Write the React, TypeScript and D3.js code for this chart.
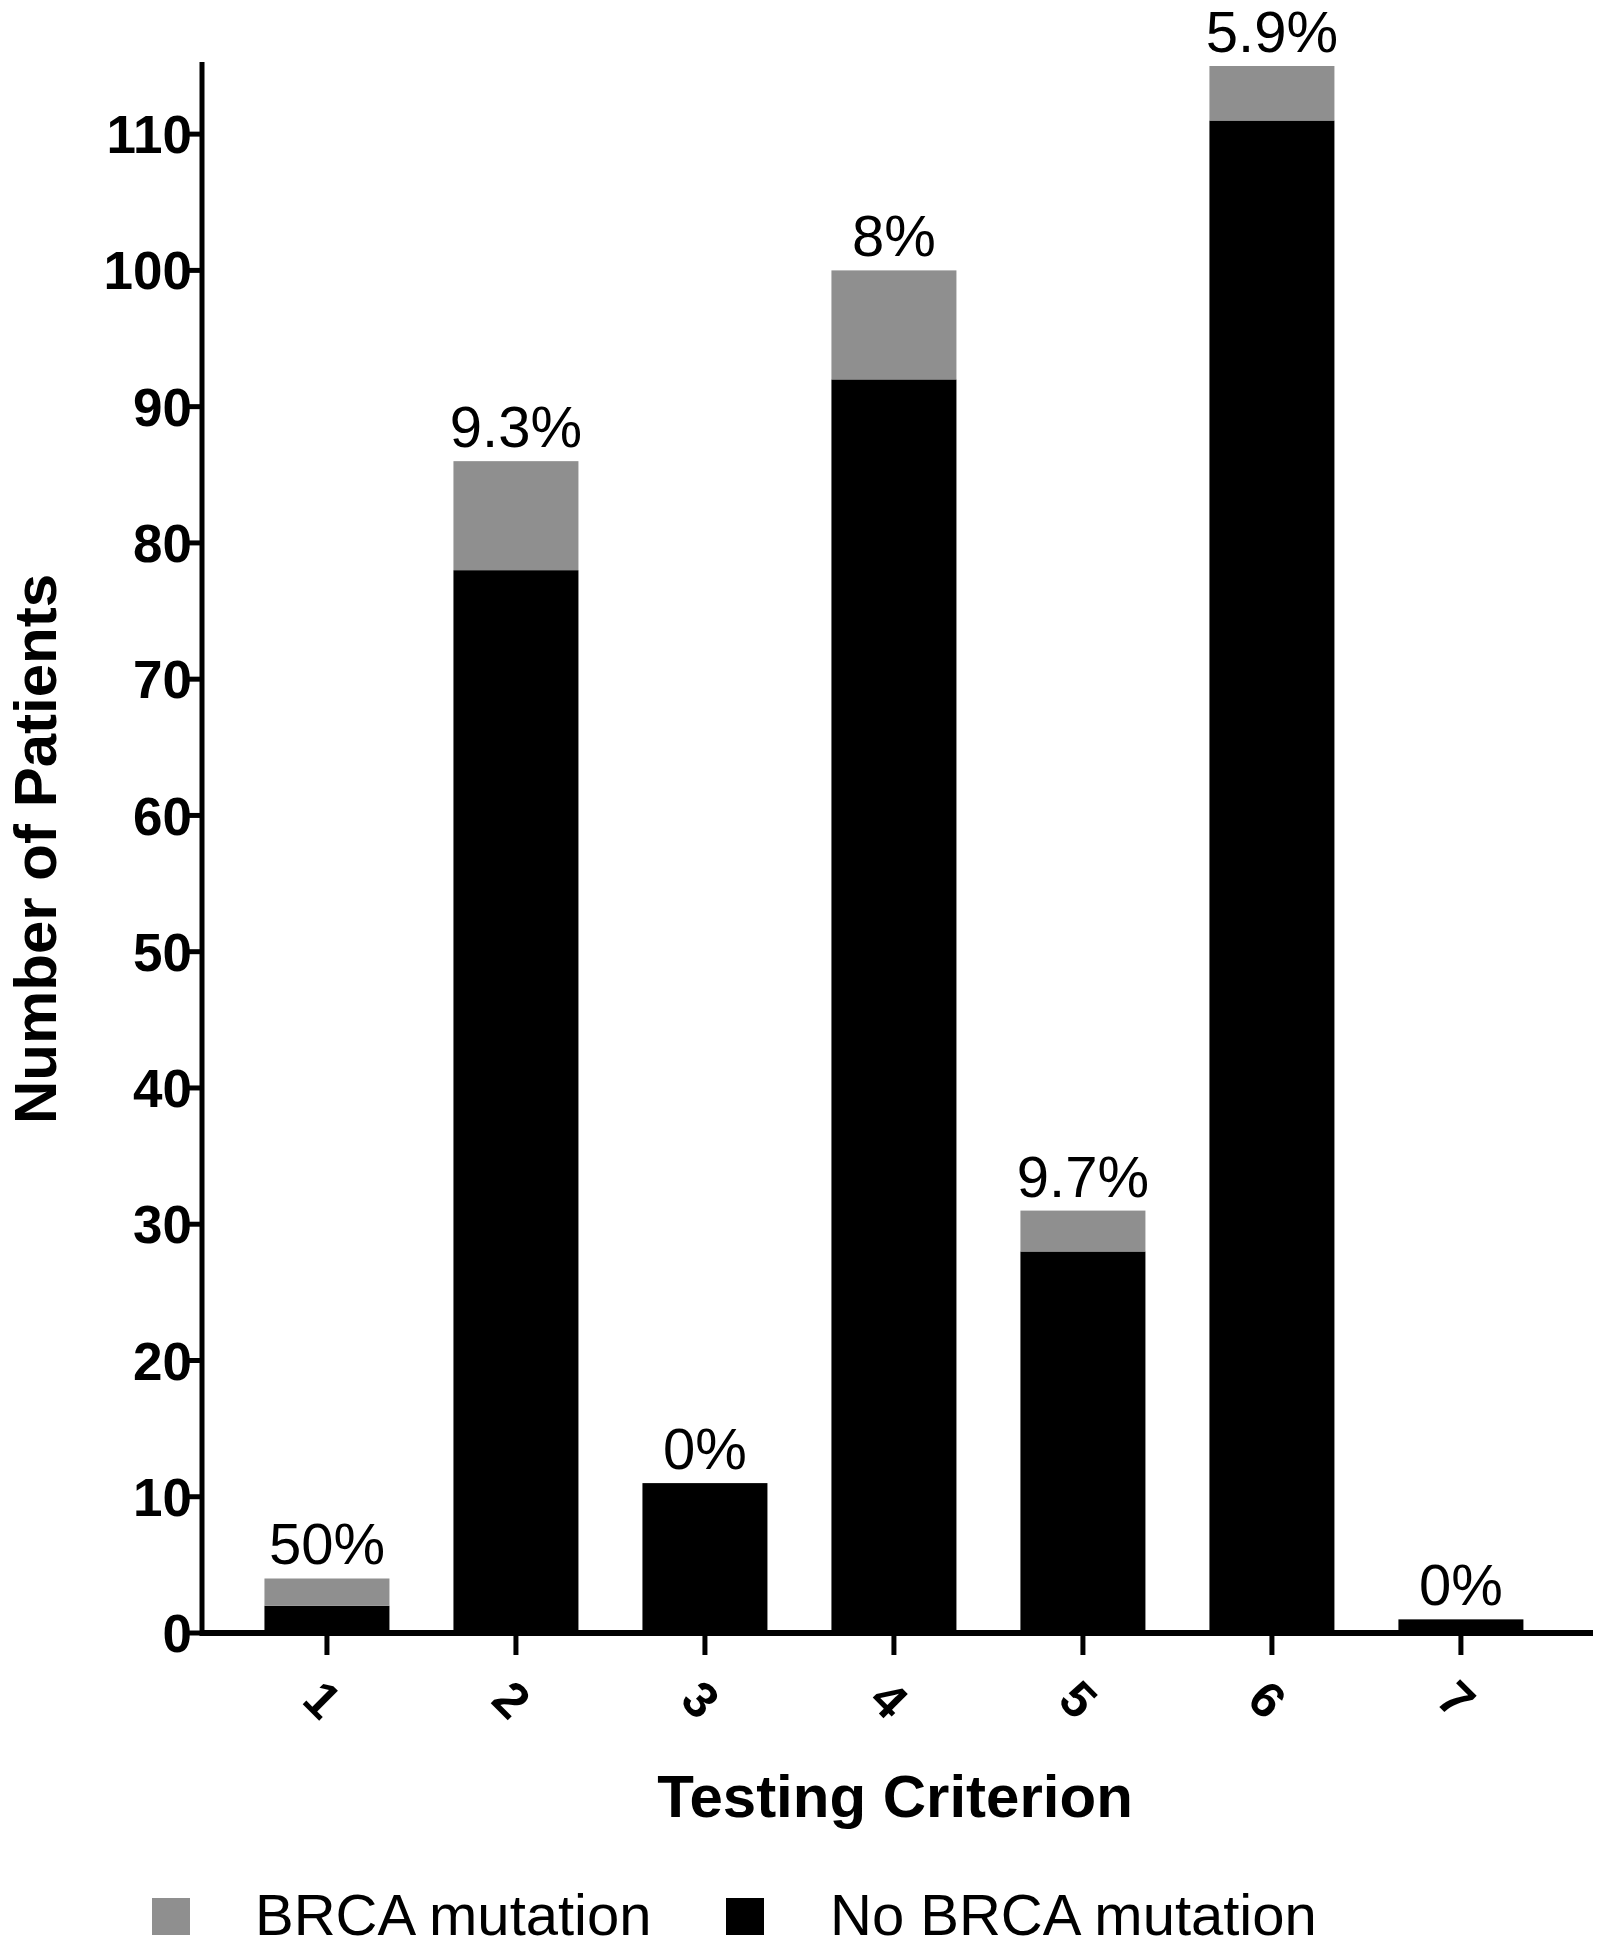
import React from "react";
import * as d3 from "d3";

const categories = ["1", "2", "3", "4", "5", "6", "7"];
const noMutation = [2, 78, 11, 92, 28, 111, 1];
const mutation = [2, 8, 0, 8, 3, 4, 0];
const percentLabels = ["50%", "9.3%", "0%", "8%", "9.7%", "5.9%", "0%"];
const yTickValues = [0, 10, 20, 30, 40, 50, 60, 70, 80, 90, 100, 110];
const seriesKeys = ["noMutation", "mutation"];
const seriesNames = ["BRCA mutation", "No BRCA mutation"];
const seriesColors: Record<string, string> = { noMutation: "#000000", mutation: "#8f8f8f" };

const W = 1604;
const H = 1950;
const FONT = "'Liberation Sans', Arial, Helvetica, sans-serif";

export default function App() {
  const axisX = 202;
  const baseY = 1633;
  const x = d3
    .scaleBand<string>()
    .domain(categories)
    .range([axisX, 1593])
    .paddingInner(0.3386)
    .paddingOuter(0.3493)
    .align(0.473);
  const y = d3.scaleLinear().domain([0, 115]).range([baseY, 66]);

  const rows = categories.map((c, i) => ({
    cat: c,
    noMutation: noMutation[i],
    mutation: mutation[i],
  }));
  const stack = d3.stack<any>().keys(seriesKeys);
  const layers = stack(rows);
  const bw = x.bandwidth();

  return (
    <svg
      width={W}
      height={H}
      viewBox={`0 0 ${W} ${H}`}
      style={{ position: "absolute", left: 0, top: 0, background: "#fff" }}
      fontFamily={FONT}
    >
      <rect x={0} y={0} width={W} height={H} fill="#fff" />
      {/* bars */}
      {layers.map((layer) => (
        <g key={layer.key} fill={seriesColors[layer.key]}>
          {layer.map((d, i) =>
            d[1] - d[0] > 0 ? (
              <rect
                key={i}
                x={x(categories[i])!}
                y={y(d[1])}
                width={bw}
                height={y(d[0]) - y(d[1])}
              />
            ) : null
          )}
        </g>
      ))}
      {/* percent labels */}
      {categories.map((c, i) => (
        <text
          key={c}
          x={x(c)! + bw / 2}
          y={y(noMutation[i] + mutation[i]) - 14}
          textAnchor="middle"
          fontSize={58}
          fill="#000"
        >
          {percentLabels[i]}
        </text>
      ))}
      {/* y axis */}
      <line x1={axisX} x2={axisX} y1={y(115) - 4} y2={baseY + 3} stroke="#000" strokeWidth={5} />
      {yTickValues.map((t) => (
        <g key={t}>
          <line x1={axisX - 14} x2={axisX} y1={y(t)} y2={y(t)} stroke="#000" strokeWidth={5} />
          <text
            x={192}
            y={y(t)}
            dy="0.36em"
            textAnchor="end"
            fontSize={53}
            fontWeight="bold"
            fill="#000"
          >
            {t}
          </text>
        </g>
      ))}
      {/* x axis */}
      <line x1={axisX - 2} x2={1593} y1={baseY} y2={baseY} stroke="#000" strokeWidth={6} />
      {categories.map((c) => {
        const cx = x(c)! + bw / 2;
        return (
          <g key={c}>
            <line x1={cx} x2={cx} y1={baseY} y2={1655} stroke="#000" strokeWidth={5} />
            <text
              transform={`translate(${cx - 4},${1699}) rotate(45)`}
              textAnchor="middle"
              dy="0.36em"
              fontSize={50}
              fontWeight="bold"
              fill="#000"
            >
              {c}
            </text>
          </g>
        );
      })}
      {/* axis titles */}
      <text x={895} y={1817} textAnchor="middle" fontSize={60} fontWeight="bold" fill="#000">
        Testing Criterion
      </text>
      <text
        transform={`translate(56,849) rotate(-90)`}
        textAnchor="middle"
        fontSize={60}
        fontWeight="bold"
        fill="#000"
      >
        Number of Patients
      </text>
      {/* legend */}
      <rect x={152} y={1898} width={38} height={37} fill={seriesColors.mutation} />
      <text x={255} y={1935} fontSize={58} fill="#000">
        {seriesNames[0]}
      </text>
      <rect x={726} y={1898} width={38} height={37} fill={seriesColors.noMutation} />
      <text x={830} y={1935} fontSize={58} fill="#000">
        {seriesNames[1]}
      </text>
    </svg>
  );
}
